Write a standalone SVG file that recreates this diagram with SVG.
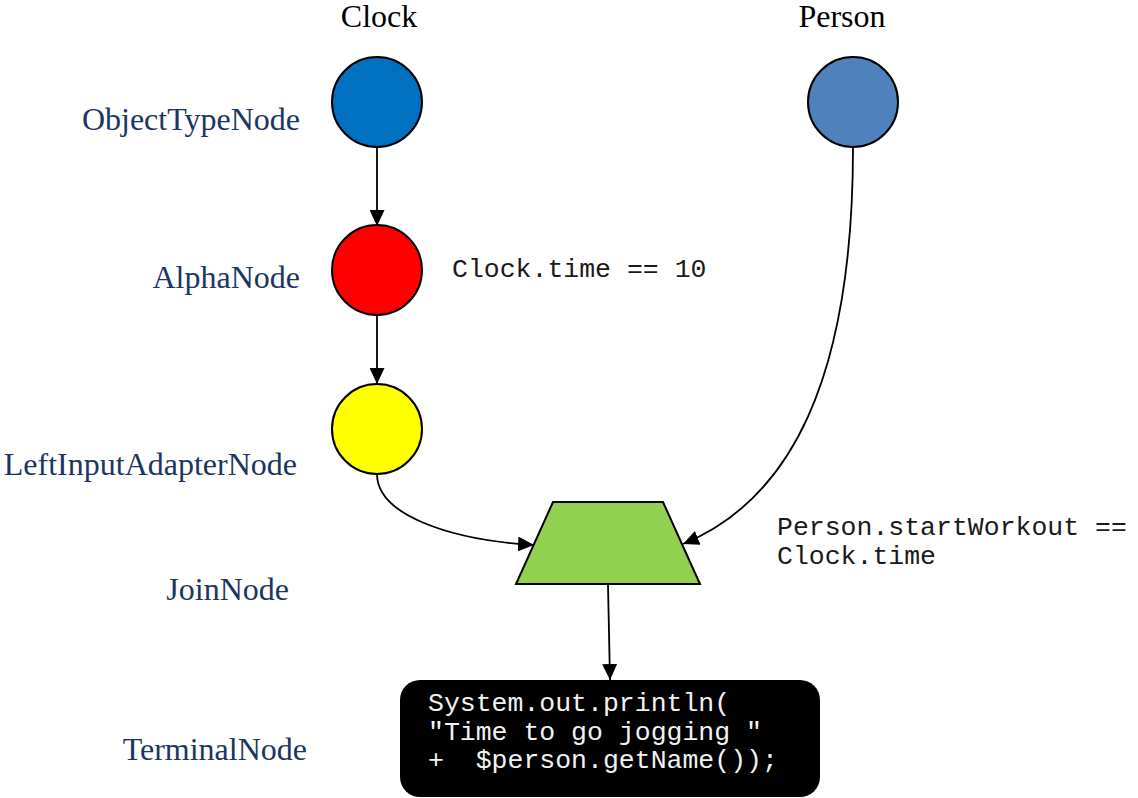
<svg xmlns="http://www.w3.org/2000/svg" width="1138" height="798" viewBox="0 0 1138 798">
<style>
.hdr{font-family:"Liberation Serif","Times New Roman",serif;font-size:32px;fill:#000}
.lbl{font-family:"Liberation Serif","Times New Roman",serif;font-size:32px;fill:#1b365f;text-anchor:end}
.code{font-family:"Liberation Mono","Courier New",monospace;font-size:26.5px;fill:#1a1a1a;white-space:pre}
.term{font-family:"Liberation Mono","Courier New",monospace;font-size:26.5px;fill:#f2f2f2;white-space:pre}
.node{stroke:#000;stroke-width:2}
.edge{fill:none;stroke:#000;stroke-width:1.8}
</style>
<defs>
<marker id="arr" markerUnits="userSpaceOnUse" markerWidth="16" markerHeight="15" refX="16" refY="7.5" orient="auto">
<path d="M0,0 L16,7.5 L0,15 z" fill="#000"/>
</marker>
</defs>
<rect width="1138" height="798" fill="#fff"/>
<text class="hdr" x="379" y="27" text-anchor="middle">Clock</text>
<text class="hdr" x="842" y="27" text-anchor="middle">Person</text>
<text class="lbl" x="300" y="130">ObjectTypeNode</text>
<text class="lbl" x="300" y="288">AlphaNode</text>
<text class="lbl" x="297" y="475">LeftInputAdapterNode</text>
<text class="lbl" x="289" y="600">JoinNode</text>
<text class="lbl" x="307" y="760">TerminalNode</text>
<g id="connectors">
<path class="edge" d="M377,147 L377,226" marker-end="url(#arr)"/>
<path class="edge" d="M377,314 L377,384" marker-end="url(#arr)"/>
<path class="edge" d="M377,474 C377,515 450,540 534,545" marker-end="url(#arr)"/>
<path class="edge" d="M853,147 C853,380 790,500 683,544" marker-end="url(#arr)"/>
<path class="edge" d="M608,585 L610,680" marker-end="url(#arr)"/>
</g>
<g id="clock"><circle class="node" cx="377" cy="102" r="45" fill="#0070C0"/></g>
<g id="person"><circle class="node" cx="853" cy="102" r="45" fill="#4F81BD"/></g>
<g id="alpha"><circle class="node" cx="377" cy="270" r="45" fill="#FF0000"/>
<text class="code" x="452" y="277">Clock.time == 10</text></g>
<g id="lia"><circle class="node" cx="377" cy="429" r="45" fill="#FFFF00"/></g>
<g id="join"><polygon class="node" points="553,502 663,502 700,584 516,584" fill="#92D050"/>
<text class="code" x="777" y="535">Person.startWorkout ==</text>
<text class="code" x="777" y="564">Clock.time</text></g>
<g id="terminal"><rect x="400" y="680" width="420" height="117" rx="20" ry="20" fill="#000"/>
<text class="term" x="428" y="711">System.out.println(</text>
<text class="term" x="428" y="740">"Time to go jogging "</text>
<text class="term" x="428" y="768">+  $person.getName());</text></g>
</svg>
